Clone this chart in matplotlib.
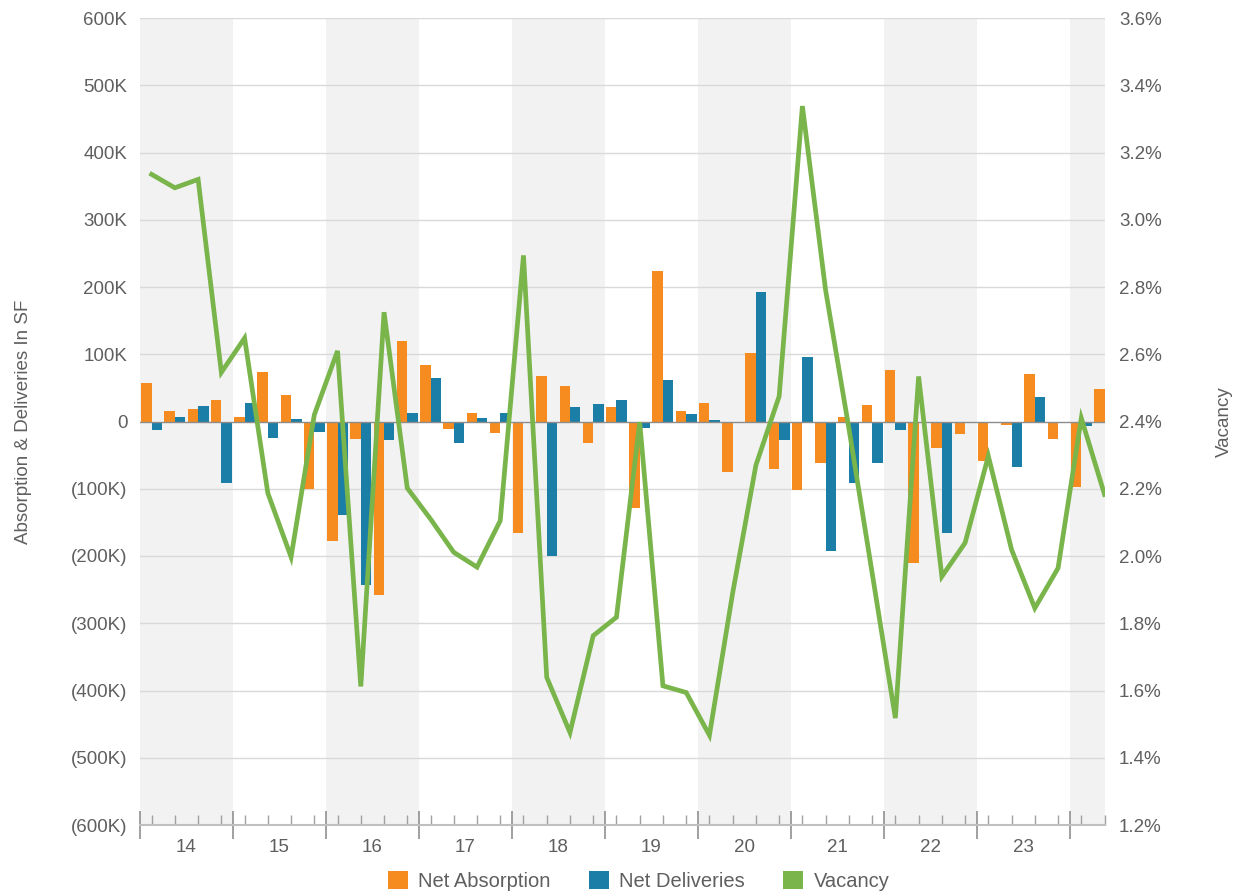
import numpy as np
import matplotlib
matplotlib.use("Agg")
import matplotlib.pyplot as plt
from matplotlib.patches import Patch
from matplotlib.ticker import FuncFormatter

plt.rcParams['font.family'] = ['Liberation Sans', 'DejaVu Sans']

# Quarterly data, 2014 Q1 .. 2024 Q2
years = ["14", "15", "16", "17", "18", "19", "20", "21", "22", "23"]
net_absorption = [57, 15, 19, 32,   6, 73, 40, -101,
                  -177, -26, -258, 120,   84, -11, 13, -17,
                  -166, 67, 53, -32,   21, -129, 224, 15,
                  28, -75, 102, -71,   -102, -61, 7, 25,
                  77, -211, -40, -19,   -59, -5, 71, -26,
                  -98, 48]
net_deliveries = [-12, 6, 23, -92,   28, -25, 4, -15,
                  -139, -243, -27, 13,   65, -32, 5, 13,
                  -2, -200, 21, 26,   32, -9, 61, 11,
                  2, 0, 193, -27,   96, -192, -91, -61,
                  -13, 0, -166, 0,   -2, -67, 36, 0,
                  -7, np.nan]
vacancy = [3.135, 3.095, 3.12, 2.546,   2.648, 2.187, 1.997, 2.42,
           2.61, 1.612, 2.725, 2.202,   2.11, 2.011, 1.967, 2.105,
           2.894, 1.639, 1.475, 1.763,   1.818, 2.398, 1.614, 1.594,
           1.467, 1.89, 2.27, 2.475,   3.338, 2.79, 2.38, 1.95,
           1.518, 2.534, 1.939, 2.039,   2.297, 2.019, 1.845, 1.964,
           2.41, 2.183]

ORANGE = "#F68B1F"
BLUE = "#1B7EA6"
GREEN = "#79B54B"
TXT = "#5f5f5f"
FS = 13.5

n = len(vacancy)
x = np.arange(n)
absorp = np.array(net_absorption, dtype=float) * 1000
deliv = np.array(net_deliveries, dtype=float) * 1000

fig = plt.figure(figsize=(12.38, 8.93), dpi=100)
ax = fig.add_axes([140/1238, 68/893, 965/1238, 807/893])

# alternating year bands
for i in range(0, len(years) + 1, 2):
    ax.axvspan(4*i - 0.5, 4*i + 3.5, color="#F2F2F3", zorder=0, lw=0)

ax.set_xlim(-0.5, n - 1 + 0.02)
ax.set_ylim(-600000, 600000)
ax.set_yticks(np.arange(-600000, 600001, 100000))
for v in np.arange(-500000, 600001, 100000):
    if v != 0:
        ax.axhline(v, color="#D9D9D9", lw=1.0, zorder=1)

bw = 0.45
ax.bar(x - bw/2, absorp, width=bw, color=ORANGE, zorder=2, lw=0)
ax.bar(x + bw/2, deliv, width=bw, color=BLUE, zorder=2, lw=0)
ax.axhline(0, color="#8c8c8c", lw=1.0, zorder=3)


def kfmt(v, pos):
    k = int(round(v / 1000))
    if k == 0:
        return "0"
    if k < 0:
        return "(%dK)" % (-k)
    return "%dK" % k


ax.yaxis.set_major_formatter(FuncFormatter(kfmt))
ax.tick_params(axis="y", length=0, pad=9, labelsize=FS, labelcolor=TXT)
for s in ["top", "right", "left"]:
    ax.spines[s].set_visible(False)
ax.spines["bottom"].set_color("#BFBFBF")
ax.spines["bottom"].set_linewidth(1.5)

# x ticks: year labels at centres, quarter minor ticks
ax.set_xticks([4*i + 1.5 for i in range(len(years))])
ax.set_xticklabels(years)
ax.set_xticks(x, minor=True)
ax.tick_params(axis="x", which="major", length=0, pad=10, labelsize=FS, labelcolor=TXT)
ax.tick_params(axis="x", which="minor", length=7, width=1, color="#A0A0A0", direction="in")

sec = ax.secondary_xaxis("bottom")
sec.set_xticks([4*i - 0.5 for i in range(len(years) + 1)])
sec.set_xticklabels([])
sec.tick_params(axis="x", length=20, width=1.2, color="#909090", direction="inout")
sec.spines["bottom"].set_visible(False)

ax.set_ylabel("Absorption & Deliveries In SF", fontsize=FS, color=TXT, labelpad=28)

ax2 = ax.twinx()
ax2.plot(x, vacancy, color=GREEN, lw=3.4, zorder=5, solid_joinstyle="miter")
ax2.set_ylim(1.2, 3.6)
ax2.set_yticks(np.arange(1.2, 3.61, 0.2))
ax2.yaxis.set_major_formatter(FuncFormatter(lambda v, p: "%.1f%%" % v))
ax2.tick_params(axis="y", length=0, pad=10, labelsize=FS, labelcolor=TXT)
for s in ["top", "right", "left", "bottom"]:
    ax2.spines[s].set_visible(False)
ax2.set_ylabel("Vacancy", fontsize=FS, color=TXT, labelpad=39)

handles = [Patch(facecolor=ORANGE, label="Net Absorption"),
           Patch(facecolor=BLUE, label="Net Deliveries"),
           Patch(facecolor=GREEN, label="Vacancy")]
leg = fig.legend(handles=handles, loc="lower center", bbox_to_anchor=(0.516, -0.018),
                 ncol=3, frameon=False, fontsize=14.5, handlelength=1.0, handleheight=1.0,
                 columnspacing=1.9, handletextpad=0.5)
for t in leg.get_texts():
    t.set_color(TXT)

fig.savefig("out.png", dpi=100)
